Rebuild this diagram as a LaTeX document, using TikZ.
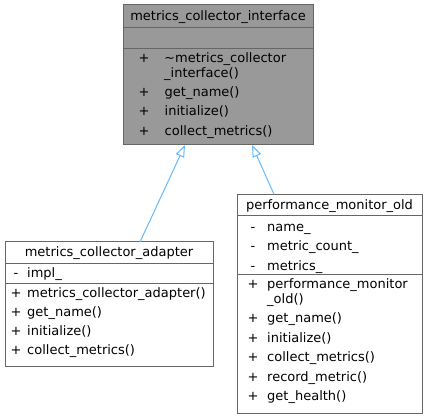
\documentclass[tikz,border=0pt]{standalone}
\usepackage{fontspec}
\setmainfont{DejaVu Sans}
\usetikzlibrary{arrows.meta}
\definecolor{bordergray}{HTML}{666666}
\definecolor{fillgray}{HTML}{999999}
\definecolor{edgeblue}{HTML}{63B8FF}
\begin{document}
\begin{tikzpicture}[x=1pt,y=-1pt,
  font=\fontsize{13}{15}\selectfont,
  box/.style={draw=bordergray, line width=1pt, inner sep=0pt, outer sep=0pt, anchor=north west},
  txt/.style={inner sep=0pt, anchor=base west},
  ctr/.style={inner sep=0pt, anchor=base},
  sep/.style={draw=bordergray, line width=1pt},
  inh/.style={draw=edgeblue, line width=1pt, {Triangle[open, length=12pt, width=9pt]}-}]
\useasboundingbox (0,0) rectangle (426,419);

% ---- metrics_collector_interface ----
\node[box, fill=fillgray, minimum width=190pt, minimum height=140pt] (iface) at (123,5) {};
\draw[sep] (123,28) -- (313,28);
\draw[sep] (123,48.5) -- (313,48.5);
\node[ctr] (ifaceT) at (218,21) {metrics\_collector\_interface};
\node[ctr] (ifaceP1) at (144,63) {+};
\node[txt] (ifaceM1) at (164,63) {\textasciitilde metrics\_collector};
\node[txt] (ifaceM1b) at (164,77.5) {\_interface()};
\node[ctr] (ifaceP2) at (144,96.4) {+};
\node[txt] (ifaceM2) at (164.5,96.4) {get\_name()};
\node[ctr] (ifaceP3) at (144,115.7) {+};
\node[txt] (ifaceM3) at (164.5,115.7) {initialize()};
\node[ctr] (ifaceP4) at (144,135.5) {+};
\node[txt] (ifaceM4) at (164.5,135.5) {collect\_metrics()};

% ---- metrics_collector_adapter ----
\node[box, fill=white, minimum width=208pt, minimum height=125pt] (adapter) at (5,242) {};
\draw[sep] (5,264) -- (213,264);
\draw[sep] (5,283.3) -- (213,283.3);
\node[ctr] (adapterT) at (109,257) {metrics\_collector\_adapter};
\node[ctr] (adapterA1s) at (16,278) {-};
\node[txt] (adapterA1) at (27,278) {impl\_};
\node[ctr] (adapterP1) at (16,298) {+};
\node[txt] (adapterM1) at (27,298) {metrics\_collector\_adapter()};
\node[ctr] (adapterP2) at (16,317) {+};
\node[txt] (adapterM2) at (27,317) {get\_name()};
\node[ctr] (adapterP3) at (16,336) {+};
\node[txt] (adapterM3) at (27,336) {initialize()};
\node[ctr] (adapterP4) at (16,355) {+};
\node[txt] (adapterM4) at (27,355) {collect\_metrics()};

% ---- performance_monitor_old ----
\node[box, fill=white, minimum width=185pt, minimum height=219pt] (perf) at (237,194.3) {};
\draw[sep] (237,216) -- (422,216);
\draw[sep] (237,275) -- (422,275);
\node[ctr] (perfT) at (329.5,209.5) {performance\_monitor\_old};
\node[ctr] (perfA1s) at (253,231.5) {-};
\node[txt] (perfA1) at (267,231.5) {name\_};
\node[ctr] (perfA2s) at (253,251) {-};
\node[txt] (perfA2) at (267,251) {metric\_count\_};
\node[ctr] (perfA3s) at (253,270.5) {-};
\node[txt] (perfA3) at (267,270.5) {metrics\_};
\node[ctr] (perfP1) at (253,289) {+};
\node[txt] (perfM1) at (267,289) {performance\_monitor};
\node[txt] (perfM1b) at (267,303.5) {\_old()};
\node[ctr] (perfP2) at (253,323) {+};
\node[txt] (perfM2) at (267,323) {get\_name()};
\node[ctr] (perfP3) at (253,342.5) {+};
\node[txt] (perfM3) at (267,342.5) {initialize()};
\node[ctr] (perfP4) at (253,362) {+};
\node[txt] (perfM4) at (267,362) {collect\_metrics()};
\node[ctr] (perfP5) at (253,381.5) {+};
\node[txt] (perfM5) at (267,381.5) {record\_metric()};
\node[ctr] (perfP6) at (253,401) {+};
\node[txt] (perfM6) at (267,401) {get\_health()};

% ---- inheritance edges ----
\draw[inh] ([xshift=62pt]iface.south west) -- ([xshift=135pt]adapter.north west);
\draw[inh] ([xshift=129pt]iface.south west) -- ([xshift=37pt]perf.north west);
\end{tikzpicture}
\end{document}
